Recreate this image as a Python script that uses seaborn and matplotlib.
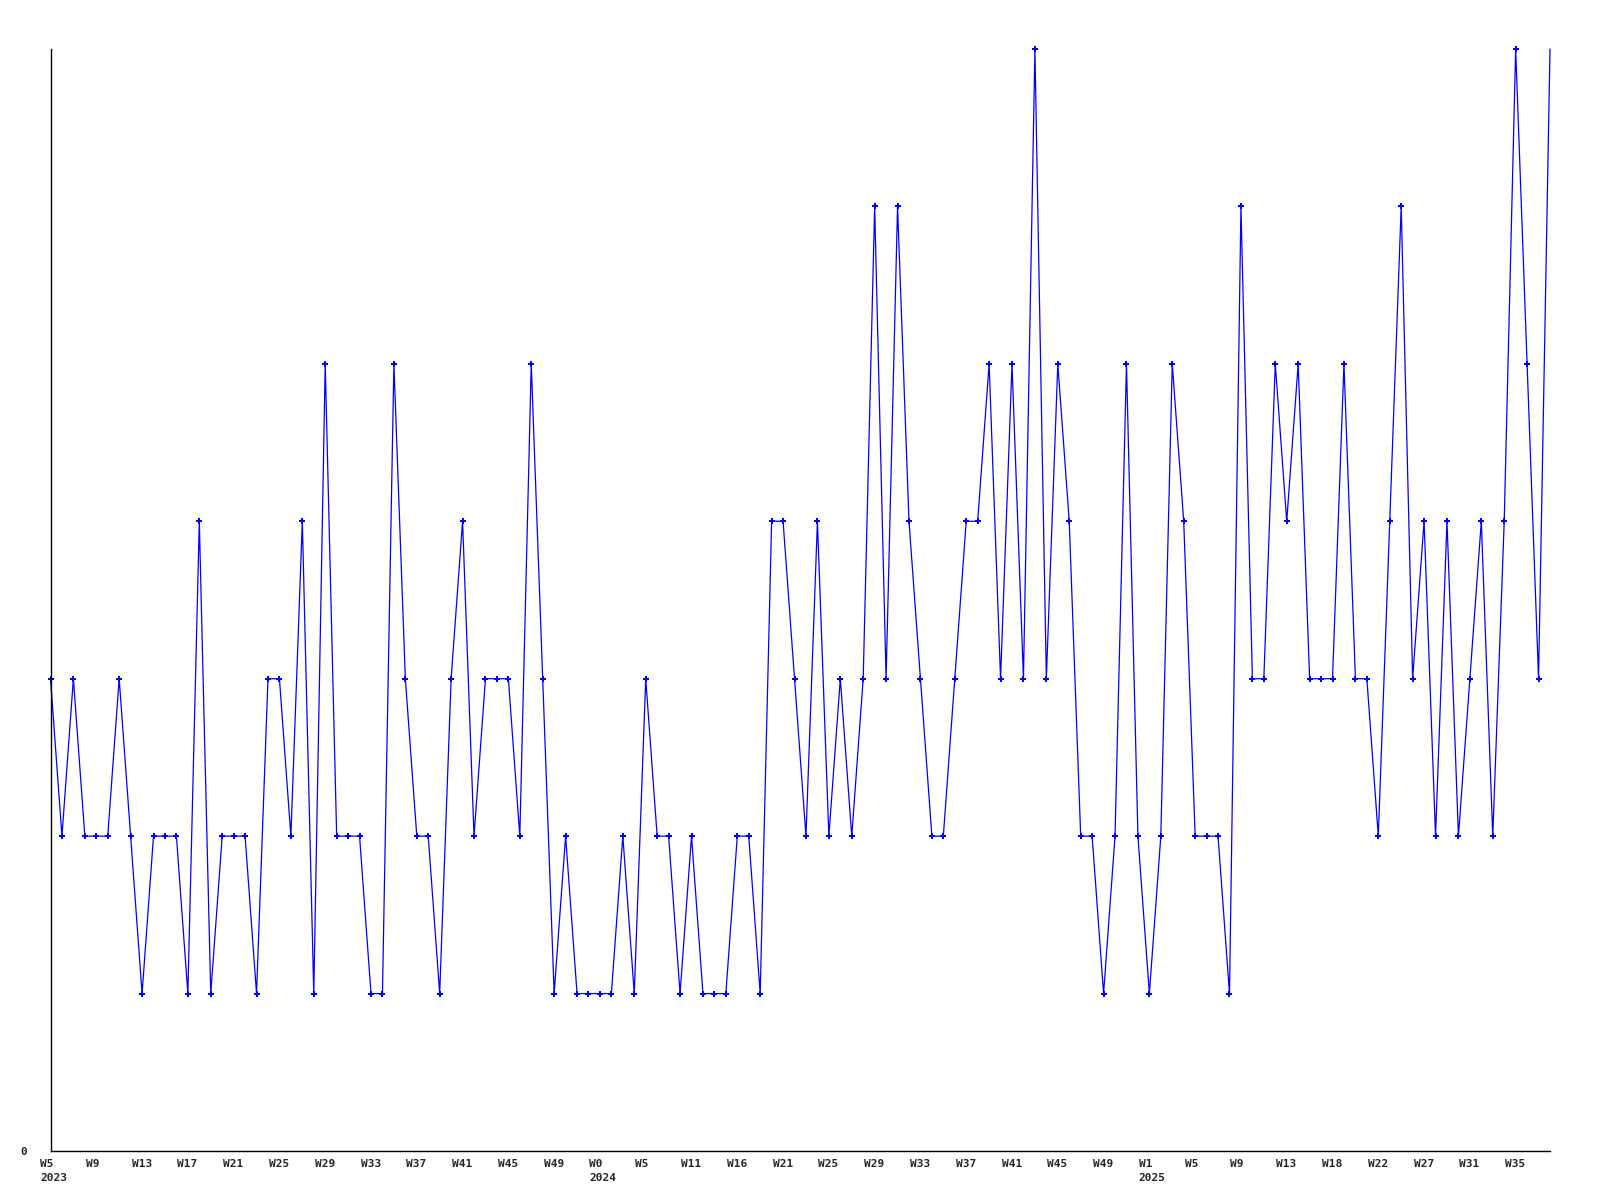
import matplotlib
matplotlib.use("Agg")
import matplotlib.pyplot as plt
from matplotlib.transforms import ScaledTranslation
import seaborn as sns
import pandas as pd

# weekly counts, W5 2023 .. W36 2025
values = [3, 2, 3, 2, 2, 2, 3, 2, 1, 2, 2, 2, 1, 4, 1, 2, 2, 2, 1, 3,
          3, 2, 4, 1, 5, 2, 2, 2, 1, 1, 5, 3, 2, 2, 1, 3, 4, 2, 3, 3,
          3, 2, 5, 3, 1, 2, 1, 1, 1, 1, 2, 1, 3, 2, 2, 1, 2, 1, 1, 1,
          2, 2, 1, 4, 4, 3, 2, 4, 2, 3, 2, 3, 6, 3, 6, 4, 3, 2, 2, 3,
          4, 4, 5, 3, 5, 3, 7, 3, 5, 4, 2, 2, 1, 2, 5, 2, 1, 2, 5, 4,
          2, 2, 2, 1, 6, 3, 3, 5, 4, 5, 3, 3, 3, 5, 3, 3, 2, 4, 6, 3,
          4, 2, 4, 2, 3, 4, 2, 4, 7, 5, 3, 7]

tick_labels = ["W5\n2023", "W9", "W13", "W17", "W21", "W25", "W29", "W33",
               "W37", "W41", "W45", "W49", "W0\n2024", "W5", "W11", "W16",
               "W21", "W25", "W29", "W33", "W37", "W41", "W45", "W49",
               "W1\n2025", "W5", "W9", "W13", "W18", "W22", "W27", "W31", "W35"]
tick_step = 4

df = pd.DataFrame({"idx": range(len(values)), "count": values})

sns.set_style("white")
plt.rcParams["font.family"] = ["DejaVu Sans Mono", "DejaVu Sans"]

fig = plt.figure(figsize=(16, 12), dpi=100)
W, H = 1600, 1200
left, right, top, bottom = 50.5, 1550, 49, 1151
ax = fig.add_axes([left / W, 1 - bottom / H, (right - left) / W, (bottom - top) / H])

sns.lineplot(data=df, x="idx", y="count", ax=ax, color="#0000ff",
             linewidth=0.9, marker="P", markersize=4.6,
             markeredgewidth=0, markerfacecolor="#0000ff",
             markevery=list(range(len(values) - 1)), clip_on=False)

ax.set_xlim(0, len(values) - 1)
ax.set_ylim(0, 7)
ax.set_xlabel("")
ax.set_ylabel("")

for s in ["top", "right"]:
    ax.spines[s].set_visible(False)
for s in ["left", "bottom"]:
    ax.spines[s].set_color("black")
    ax.spines[s].set_linewidth(1.0)

ax.set_yticks([0])
ax.set_yticklabels(["0"], fontsize=8, fontweight="bold")
ax.tick_params(axis="y", length=0, pad=17)

ticks = list(range(0, len(values), tick_step))[:len(tick_labels)]
ax.set_xticks(ticks)
ax.set_xticklabels(tick_labels, fontsize=8, fontweight="bold", ha="left",
                   linespacing=1.4)
ax.tick_params(axis="x", length=0, pad=6)
off = ScaledTranslation(-10.5 / 100, 0, fig.dpi_scale_trans)
for lab in ax.get_xticklabels():
    lab.set_transform(lab.get_transform() + off)
    lab.set_multialignment("left")

ax.grid(False)
fig.savefig("out.png", dpi=100, facecolor="white")
